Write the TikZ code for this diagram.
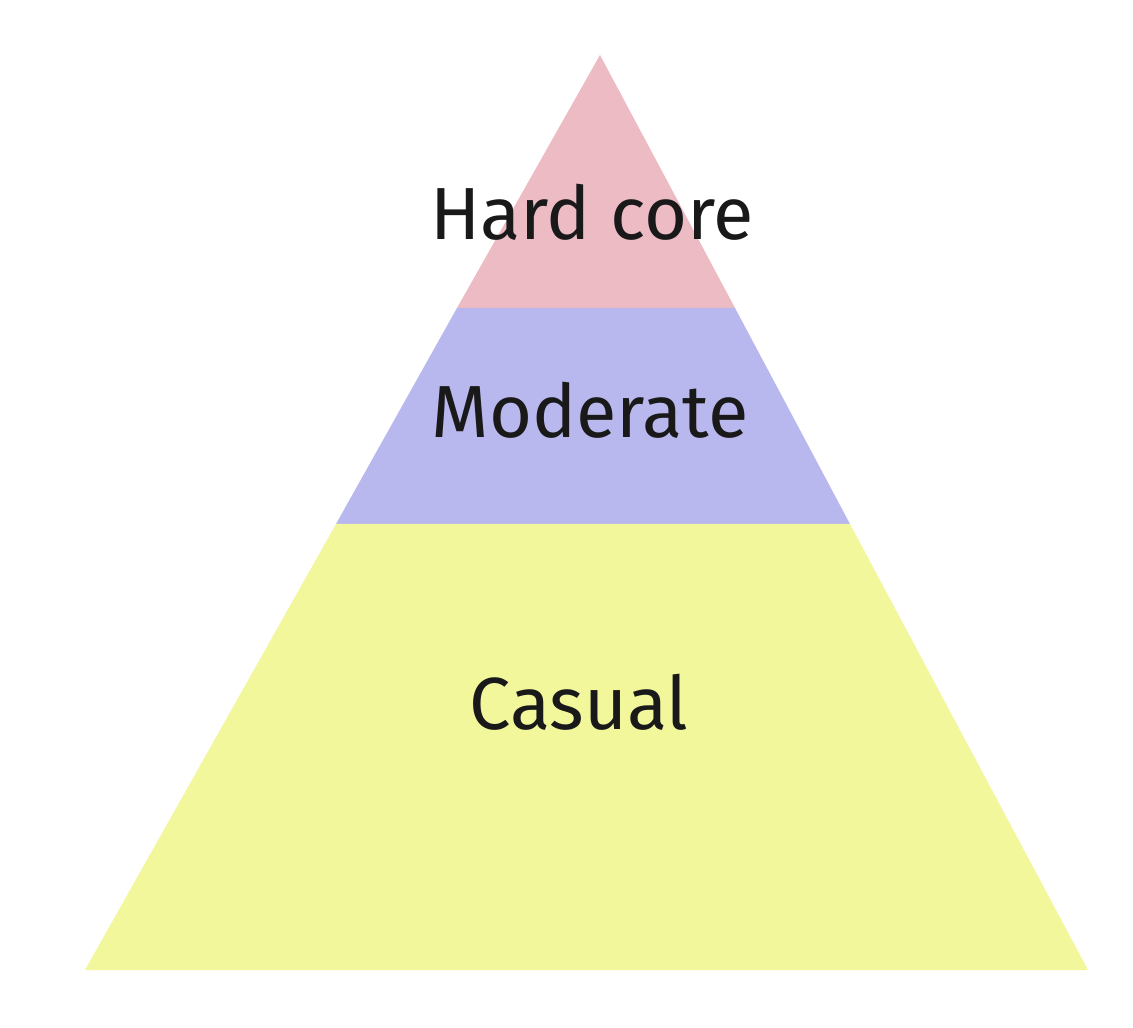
\documentclass[tikz,border=0pt]{standalone}
\usepackage{fontspec}
\setmainfont{Fira Sans}
\usepackage{xcolor}
\definecolor{colorHard}{RGB}{236,187,195}
\definecolor{colorModerate}{RGB}{184,184,238}
\definecolor{colorCasual}{RGB}{242,247,156}
\usetikzlibrary{positioning}
\tikzset{layer text/.style={font=\fontsize{21}{24}\selectfont, text=black!90, inner sep=0pt}}

\begin{document}
\begin{tikzpicture}[x=0.01cm, y=-0.01cm]
\useasboundingbox (0,0) rectangle (1133,1028);
\fill[white] (0,0) rectangle (1133,1028);
% pyramid layers
\fill[colorHard] (600,55) -- (735,308) -- (457,308) -- cycle;
\fill[colorModerate] (457,308) -- (735,308) -- (850,524) -- (336,524) -- cycle;
\fill[colorCasual] (336,524) -- (850,524) -- (1088,970) -- (85,970) -- cycle;
% labels
\node[layer text] (hardcore) at (592,212) {Hard core};
\node[layer text] (moderate) at (590,410) {Moderate};
\node[layer text] (casual) at (579,702) {Casual};
\end{tikzpicture}
\end{document}
